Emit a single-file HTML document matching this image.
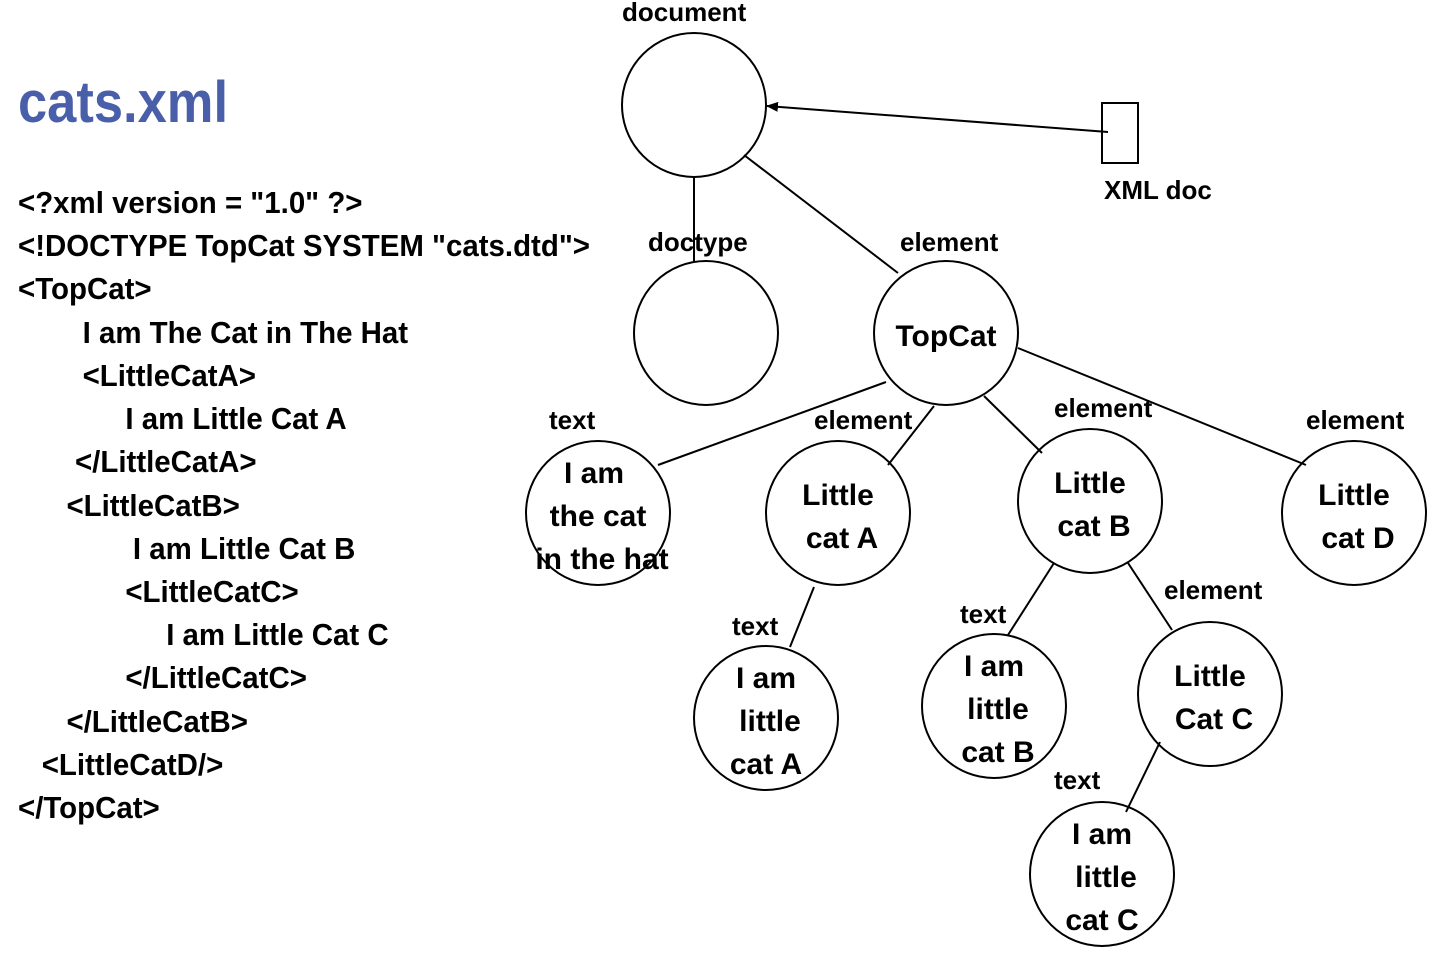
<!DOCTYPE html>
<html><head><meta charset="utf-8"><style>
html,body{margin:0;padding:0;background:#fff;}
svg text{font-family:"Liberation Sans",sans-serif;font-weight:bold;fill:#000;}
</style></head><body>
<svg width="1438" height="959" viewBox="0 0 1438 959" xmlns="http://www.w3.org/2000/svg">
<defs><marker id="a" markerWidth="12" markerHeight="10" refX="11" refY="5" orient="auto" markerUnits="userSpaceOnUse"><path d="M0,0 L12,5 L0,10 z" fill="#000"/></marker></defs>
<g transform="translate(18,0) scale(0.905,1)"><text x="0" y="122" style="font-size:58px;fill:#4a5faa">cats.xml</text></g>
<g style="font-size:31px" transform="translate(18,0) scale(0.95,1)">
<text x="0" y="213">&lt;?xml version = "1.0" ?&gt;</text>
<text x="0" y="256">&lt;!DOCTYPE TopCat SYSTEM "cats.dtd"&gt;</text>
<text x="0" y="299">&lt;TopCat&gt;</text>
<text x="68" y="343">I am The Cat in The Hat</text>
<text x="68" y="386">&lt;LittleCatA&gt;</text>
<text x="113" y="429">I am Little Cat A</text>
<text x="60" y="472">&lt;/LittleCatA&gt;</text>
<text x="51" y="516">&lt;LittleCatB&gt;</text>
<text x="121" y="559">I am Little Cat B</text>
<text x="113" y="602">&lt;LittleCatC&gt;</text>
<text x="156" y="645">I am Little Cat C</text>
<text x="113" y="688">&lt;/LittleCatC&gt;</text>
<text x="51" y="732">&lt;/LittleCatB&gt;</text>
<text x="25" y="775">&lt;LittleCatD/&gt;</text>
<text x="0" y="818">&lt;/TopCat&gt;</text>
</g>
<g stroke="#000" stroke-width="2" fill="none">
<circle cx="694" cy="105" r="72"/>
<circle cx="706" cy="333" r="72"/>
<circle cx="946" cy="333" r="72"/>
<circle cx="598" cy="513" r="72"/>
<circle cx="838" cy="513" r="72"/>
<circle cx="1090" cy="501" r="72"/>
<circle cx="1354" cy="513" r="72"/>
<circle cx="766" cy="718" r="72"/>
<circle cx="994" cy="706" r="72"/>
<circle cx="1210" cy="694" r="72"/>
<circle cx="1102" cy="874" r="72"/>
<line x1="694" y1="178" x2="694" y2="262"/>
<line x1="744" y1="155" x2="898" y2="273"/>
<line x1="886" y1="382" x2="658" y2="465"/>
<line x1="934" y1="406" x2="888" y2="465"/>
<line x1="984" y1="396" x2="1042" y2="453"/>
<line x1="1018" y1="348" x2="1306" y2="465"/>
<line x1="814" y1="587" x2="790" y2="647"/>
<line x1="1054" y1="563" x2="1008" y2="635"/>
<line x1="1128" y1="563" x2="1172" y2="630"/>
<line x1="1160" y1="742" x2="1126" y2="812"/>
<line x1="1108" y1="132" x2="767" y2="106" marker-end="url(#a)"/>
<rect x="1102" y="103" width="36" height="60"/>
</g>
<g style="font-size:26px">
<text x="622" y="21">document</text>
<text x="648" y="251">doctype</text>
<text x="900" y="251">element</text>
<text x="549" y="429">text</text>
<text x="814" y="429">element</text>
<text x="1054" y="417">element</text>
<text x="1306" y="429">element</text>
<text x="732" y="635">text</text>
<text x="960" y="623">text</text>
<text x="1164" y="599">element</text>
<text x="1054" y="789">text</text>
<text x="1104" y="199">XML doc</text>
</g>
<g style="font-size:30px" text-anchor="middle">
<text x="946" y="346">TopCat</text>
<text x="594" y="483">I am</text><text x="598" y="526">the cat</text><text x="602" y="569">in the hat</text>
<text x="838" y="505">Little</text><text x="842" y="548">cat A</text>
<text x="1090" y="493">Little</text><text x="1094" y="536">cat B</text>
<text x="1354" y="505">Little</text><text x="1358" y="548">cat D</text>
<text x="766" y="688">I am</text><text x="770" y="731">little</text><text x="766" y="774">cat A</text>
<text x="994" y="676">I am</text><text x="998" y="719">little</text><text x="998" y="762">cat B</text>
<text x="1210" y="686">Little</text><text x="1214" y="729">Cat C</text>
<text x="1102" y="844">I am</text><text x="1106" y="887">little</text><text x="1102" y="930">cat C</text>
</g>
</svg>
</body></html>
